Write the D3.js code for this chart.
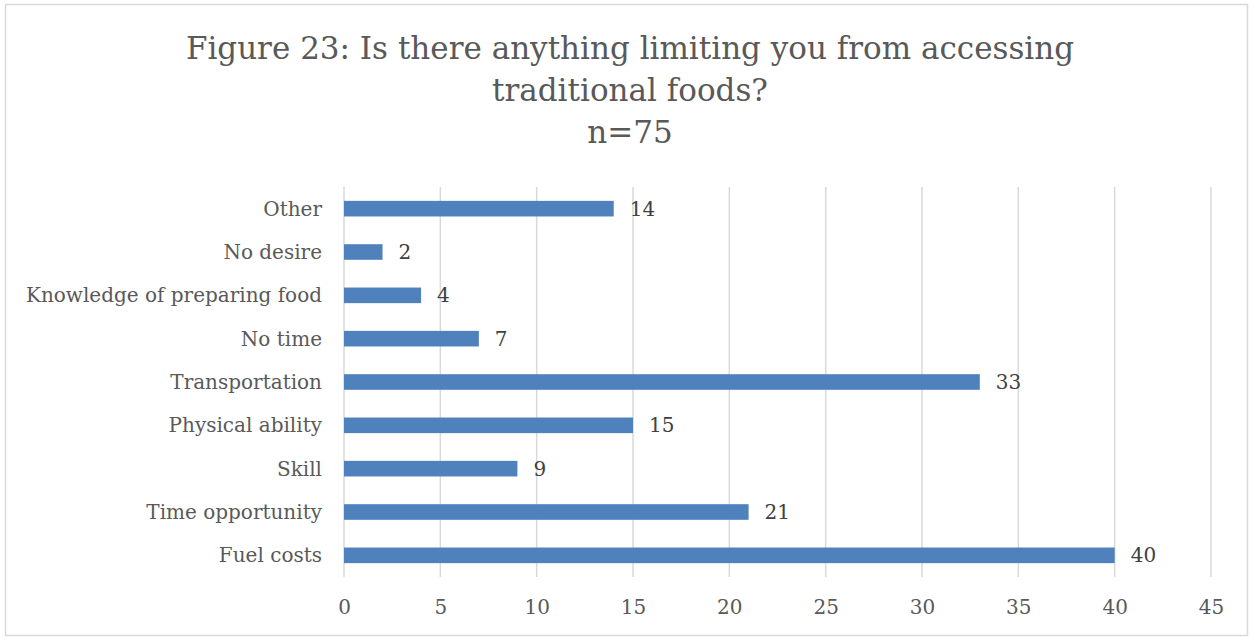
<!DOCTYPE html>
<html><head><meta charset="utf-8">
<script src="https://cdn.jsdelivr.net/npm/d3@7"></script>
<style>body{margin:0;background:#fff}svg{display:block}</style>
</head><body>
<svg id="c" width="1254" height="638"></svg>
<script>
const categories = ["Other","No desire","Knowledge of preparing food","No time","Transportation","Physical ability","Skill","Time opportunity","Fuel costs"];
const values = [14,2,4,7,33,15,9,21,40];
const xTicks = [0,5,10,15,20,25,30,35,40,45];
const titleLines = ["Figure 23: Is there anything limiting you from accessing","traditional foods?","n=75"];

const svg = d3.select("#c");
const font = "'DejaVu Serif', serif";
svg.append("rect").attr("x",5.5).attr("y",4.5).attr("width",1242).attr("height",631)
  .attr("fill","#fff").attr("stroke","#d9d9d9").attr("stroke-width",1.5);

const x = d3.scaleLinear().domain([0,45]).range([344,1211]);
const y = d3.scaleBand().domain(categories).range([187,577]).paddingInner(0.64).paddingOuter(0.32);

// title
svg.append("g").selectAll("text").data(titleLines).join("text")
  .attr("x",630).attr("y",(d,i)=>59+i*42).attr("text-anchor","middle")
  .attr("font-family",font).attr("font-size",31).attr("fill","#595959").text(d=>d);

// grid
svg.append("g").selectAll("line").data(xTicks).join("line")
  .attr("x1",d=>x(d)).attr("x2",d=>x(d)).attr("y1",187).attr("y2",577)
  .attr("stroke","#d9d9d9").attr("stroke-width",1.5);

// x axis labels
const xa = svg.append("g").attr("transform","translate(0,607)")
  .call(d3.axisBottom(x).tickValues(xTicks).tickSize(0).tickPadding(0));
xa.select(".domain").remove();
xa.selectAll("text").attr("font-family",font).attr("font-size",20).attr("fill","#595959").attr("dy","0.35em");

// y axis labels
const ya = svg.append("g").attr("transform","translate(322,0)")
  .call(d3.axisLeft(y).tickSize(0).tickPadding(0));
ya.select(".domain").remove();
ya.selectAll("text").attr("font-family",font).attr("font-size",20).attr("fill","#595959").attr("dy","0.35em");

// bars
svg.append("g").selectAll("rect").data(categories).join("rect")
  .attr("x",x(0)).attr("y",d=>y(d)).attr("height",y.bandwidth())
  .attr("width",(d,i)=>x(values[i])-x(0)).attr("fill","#4f81bd");

// value labels
svg.append("g").selectAll("text").data(categories).join("text")
  .attr("x",(d,i)=>x(values[i])+16).attr("y",d=>y(d)+y.bandwidth()/2).attr("dy","0.35em")
  .attr("font-family",font).attr("font-size",20).attr("fill","#404040").text((d,i)=>values[i]);
</script>
</body></html>
